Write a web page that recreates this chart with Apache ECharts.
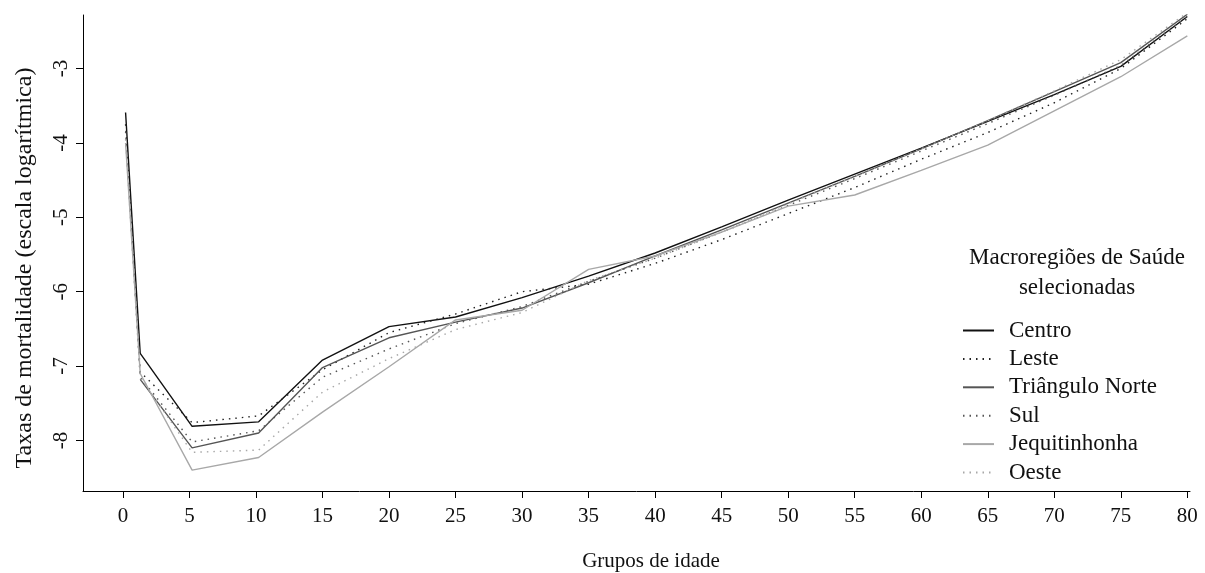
<!DOCTYPE html>
<html lang="pt">
  <head>
    <meta charset="UTF-8" />
    <title>Taxas de mortalidade por grupos de idade</title>
    <script src="https://cdn.jsdelivr.net/npm/echarts@6/dist/echarts.min.js"></script>
  </head>
  <body style="margin: 0; background: #fff">
    <div id="main" style="width: 1205px; height: 573px"></div>

    <script type="text/javascript">
      // grupos de idade (posição no eixo x)
      const ages = [0.2, 1.3, 5.2, 10.2, 15, 20, 25, 30, 35, 40, 45, 50, 55, 60, 65, 70, 75, 80];
      const xTicks = [0, 5, 10, 15, 20, 25, 30, 35, 40, 45, 50, 55, 60, 65, 70, 75, 80];
      const yTicks = [-8, -7, -6, -5, -4, -3];

      // log das taxas de mortalidade
      const centro = [-3.59, -6.83, -7.81, -7.75, -6.92, -6.47, -6.34, -6.08, -5.79, -5.48, -5.13, -4.77, -4.42, -4.07, -3.71, -3.35, -2.97, -2.30];
      const leste = [-3.75, -7.08, -7.76, -7.67, -7.05, -6.55, -6.30, -6.00, -5.90, -5.62, -5.30, -4.95, -4.60, -4.22, -3.86, -3.46, -3.00, -2.33];
      const trianguloNorte = [null, -7.18, -8.10, -7.90, -7.02, -6.62, -6.41, -6.22, -5.88, -5.52, -5.17, -4.81, -4.45, -4.08, -3.70, -3.31, -2.92, -2.27];
      const sul = [-3.85, -7.15, -8.02, -7.87, -7.15, -6.77, -6.43, -6.20, -5.86, -5.55, -5.20, -4.84, -4.48, -4.11, -3.74, -3.36, -2.96, -2.30];
      const jequitinhonha = [-4.0, -7.1, -8.4, -8.23, -7.62, -7.01, -6.38, -6.25, -5.7, -5.52, -5.2, -4.85, -4.7, -4.37, -4.03, -3.57, -3.11, -2.56];
      const oeste = [-3.95, -7.15, -8.16, -8.13, -7.35, -6.9, -6.51, -6.28, -5.85, -5.55, -5.2, -4.82, -4.45, -4.08, -3.7, -3.3, -2.88, -2.25];

      const font = "Liberation Serif";
      const dots = [1.5, 5];

      function pairs(values) {
        return ages.map((a, i) => [a, values[i]]);
      }

      function line(name, values, color, type) {
        return {
          name: name,
          type: "line",
          data: pairs(values),
          symbol: "none",
          connectNulls: false,
          lineStyle: { color: color, width: 1.4, type: type },
          itemStyle: { color: color },
          emphasis: { disabled: true },
        };
      }

      const myChart = echarts.init(document.getElementById("main"));

      myChart.setOption({
        animation: false,
        textStyle: { fontFamily: font },
        grid: { left: 83, right: 15, top: 15, bottom: 82, containLabel: false, outerBoundsMode: "none" },
        xAxis: {
          type: "value",
          min: -3,
          max: 80.2,
          axisLine: { show: true, onZero: false, lineStyle: { color: "#000", width: 1 } },
          axisTick: { show: true, length: 7, customValues: xTicks, lineStyle: { color: "#000" } },
          axisLabel: { customValues: xTicks, color: "#111", fontSize: 21, margin: 15, fontFamily: font },
          splitLine: { show: false },
        },
        yAxis: {
          type: "value",
          min: -8.68,
          max: -2.28,
          axisLine: { show: true, onZero: false, lineStyle: { color: "#000", width: 1 } },
          axisTick: { show: true, length: 7, customValues: yTicks, lineStyle: { color: "#000" } },
          axisLabel: { customValues: yTicks, rotate: 90, color: "#111", fontSize: 21, margin: 11, fontFamily: font },
          splitLine: { show: false },
        },
        legend: {
          orient: "vertical",
          left: 957,
          top: 314,
          itemWidth: 31,
          itemHeight: 14,
          itemGap: 5.4,
          selectedMode: false,
          itemStyle: { opacity: 0 },
          textStyle: { fontSize: 23, color: "#111", fontFamily: font, lineHeight: 14, padding: [0, 0, 0, 10] },
          data: ["Centro", "Leste", "Triângulo Norte", "Sul", "Jequitinhonha", "Oeste"],
        },
        graphic: [
          {
            type: "text",
            x: 1077,
            y: 273,
            style: {
              text: "Macroregiões de Saúde\nselecionadas",
              fill: "#111",
              font: "23px " + font,
              lineHeight: 30,
              align: "center",
              verticalAlign: "middle",
            },
          },
          {
            type: "text",
            x: 25,
            y: 268,
            rotation: Math.PI / 2,
            style: {
              text: "Taxas de mortalidade (escala logarítmica)",
              fill: "#111",
              font: "24px " + font,
              align: "center",
              verticalAlign: "middle",
            },
          },
          {
            type: "text",
            x: 651,
            y: 561,
            style: {
              text: "Grupos de idade",
              fill: "#111",
              font: "21px " + font,
              align: "center",
              verticalAlign: "middle",
            },
          },
        ],
        series: [
          line("Centro", centro, "#111", "solid"),
          line("Leste", leste, "#222", dots),
          line("Triângulo Norte", trianguloNorte, "#555", "solid"),
          line("Sul", sul, "#555", dots),
          line("Jequitinhonha", jequitinhonha, "#a8a8a8", "solid"),
          line("Oeste", oeste, "#a8a8a8", dots),
        ],
      });
    </script>
  </body>
</html>
